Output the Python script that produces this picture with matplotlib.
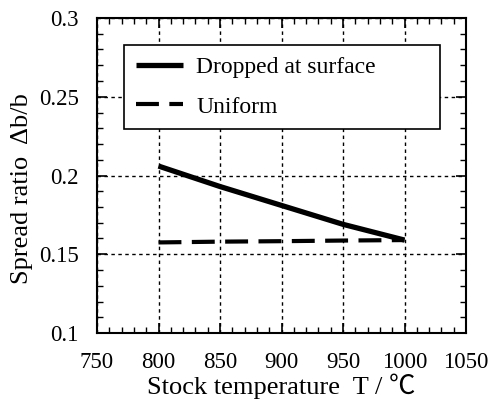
import matplotlib
matplotlib.use("Agg")
import matplotlib.pyplot as plt
from matplotlib.ticker import MultipleLocator, FuncFormatter

temps = [800, 850, 900, 950, 1000]
dropped = [0.206, 0.193, 0.181, 0.169, 0.159]
uniform = [0.1575, 0.158, 0.1583, 0.1587, 0.159]
labels = ["Dropped at surface", "Uniform"]

plt.rcParams['font.family'] = ['Liberation Serif', 'Noto Sans CJK JP', 'DejaVu Serif']

fig = plt.figure(figsize=(4.93, 4.03), dpi=100)
ax = fig.add_axes([97/493, 1 - 333/403, (466-97)/493, (333-18)/403])

ax.plot(temps, dropped, color='black', lw=3.8, solid_capstyle='butt', label=labels[0], zorder=3)
ax.plot(temps, uniform, color='black', lw=3.0, dashes=(5.5, 2.5), dash_capstyle='butt', label=labels[1], zorder=3)

ax.set_xlim(750, 1050)
ax.set_ylim(0.1, 0.3)
ax.xaxis.set_major_locator(MultipleLocator(50))
ax.xaxis.set_minor_locator(MultipleLocator(10))
ax.yaxis.set_major_locator(MultipleLocator(0.05))
ax.yaxis.set_minor_locator(MultipleLocator(0.01))
ax.yaxis.set_major_formatter(FuncFormatter(lambda v, p: f"{v:.2f}".rstrip('0').rstrip('.')))

ax.tick_params(which='both', direction='in', top=True, right=True, labelsize=16.5, color='black')
ax.tick_params(which='major', length=7, width=1.2)
ax.tick_params(axis='x', which='major', pad=14)
ax.tick_params(axis='y', which='major', pad=13)
ax.tick_params(which='minor', length=4, width=1.0)
ax.grid(True, which='major', color='black', linestyle=(0, (2.5, 2.5)), linewidth=1.0)
for s in ax.spines.values():
    s.set_linewidth(1.5)

ax.set_xlabel("Stock temperature  T / ℃", fontsize=19, labelpad=0)
ax.set_ylabel("Spread ratio  Δb/b", fontsize=19)
ax.yaxis.set_label_coords((33-97)/369, (333-189)/315)

leg = ax.legend(loc='upper left',
                bbox_to_anchor=((124-97)/369, 1 - (126-18)/315, (440-124)/369, (126-45)/315),
                mode='expand', fontsize=17, frameon=True, fancybox=False, edgecolor='black',
                framealpha=1, handlelength=2.0, handletextpad=0.55, labelspacing=0.75, borderpad=0.5,
                borderaxespad=0)
leg.get_frame().set_linewidth(1.2)

fig.savefig("out.png", dpi=100)
